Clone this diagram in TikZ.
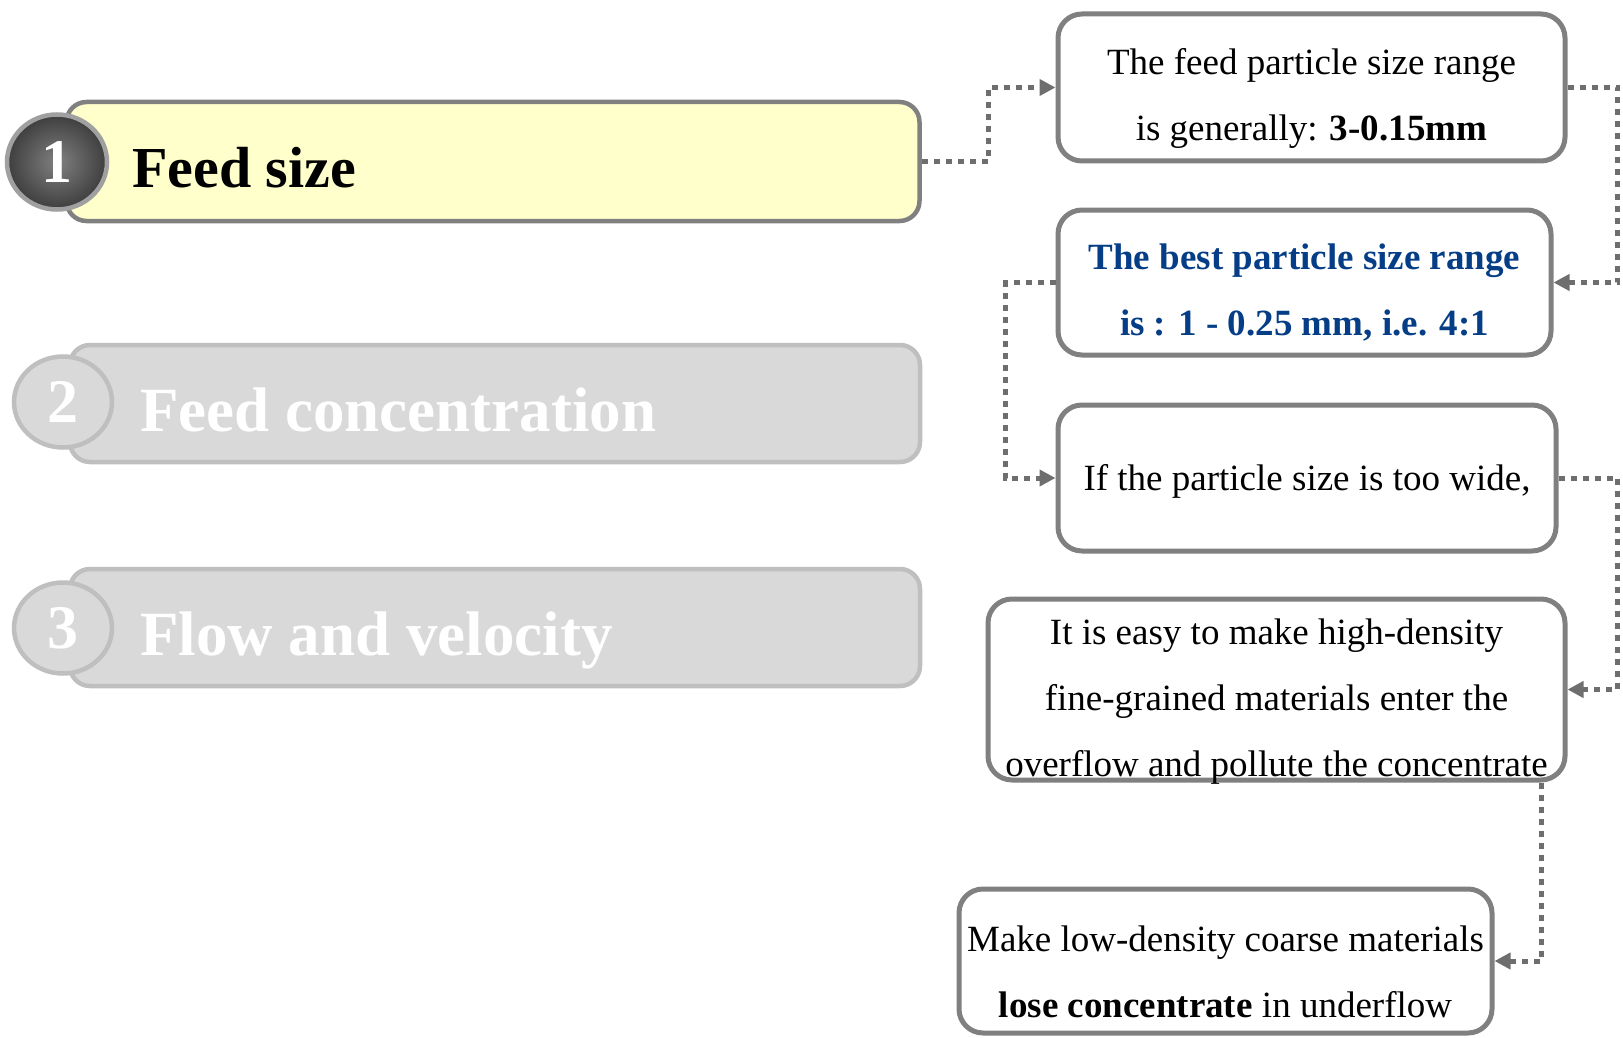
\documentclass[tikz,border=0pt]{standalone}
\usepackage{fontspec}
\setmainfont{Liberation Serif}
\usetikzlibrary{arrows.meta,shapes.geometric}
\definecolor{boxgray}{RGB}{128,128,128}
\definecolor{conngray}{RGB}{110,110,110}
\definecolor{barfill}{RGB}{255,255,204}
\definecolor{barline}{RGB}{128,128,128}
\definecolor{fadefill}{RGB}{217,217,217}
\definecolor{fadeline}{RGB}{191,191,191}
\definecolor{ballin}{RGB}{128,128,128}
\definecolor{ballout}{RGB}{62,62,62}
\definecolor{ballline}{RGB}{160,160,160}
\definecolor{bestblue}{RGB}{5,62,135}
\begin{document}
\begin{tikzpicture}[x=1pt,y=-1pt,
 infobox/.style={draw=boxgray,line width=5pt,rounded corners=24pt,fill=white,inner sep=0pt},
 infotext/.style={align=center,font=\fontsize{37}{66}\selectfont,inner sep=0pt},
 activebar/.style={draw=barline,fill=barfill,line width=4.5pt,rounded corners=20pt,inner sep=0pt},
 fadebar/.style={draw=fadeline,fill=fadefill,line width=4.5pt,rounded corners=20pt,inner sep=0pt},
 activeball/.style={ellipse,draw=ballline,line width=4.5pt,inner color=ballin,outer color=ballout,inner sep=0pt},
 fadeball/.style={ellipse,draw=fadeline,fill=fadefill,line width=4.5pt,inner sep=0pt},
 balltext/.style={text=white,font=\fontsize{62}{62}\selectfont\bfseries,inner sep=0pt},
 bartext/.style={anchor=base west,inner sep=0pt},
 conn/.style={draw=conngray,line width=5pt,dash pattern=on 6pt off 6pt,-{Triangle[length=16pt,width=16pt]}}
]
\useasboundingbox (0,0) rectangle (1623,1038);

% left bars
\node[activebar, minimum width=853pt, minimum height=119pt] (bar1) at (493,161.5) {};
\node[fadebar, minimum width=850pt, minimum height=117pt] (bar2) at (495,403.5) {};
\node[fadebar, minimum width=850pt, minimum height=117pt] (bar3) at (495,627.5) {};

\node[activeball, minimum width=100pt, minimum height=95pt] (ball1) at (57,162) {};
\node[balltext] (num1) at (ball1.center) {1};
\node[fadeball, minimum width=98pt, minimum height=91pt] (ball2) at (63,402) {};
\node[balltext] (num2) at (ball2.center) {2};
\node[fadeball, minimum width=98pt, minimum height=91pt] (ball3) at (63,628) {};
\node[balltext] (num3) at (ball3.center) {3};

\node[bartext, text=black, font=\fontsize{58}{58}\selectfont\bfseries] (lab1) at (132,187) {Feed size};
\node[bartext, text=white, font=\fontsize{63}{63}\selectfont\bfseries] (lab2) at (140,431) {Feed concentration};
\node[bartext, text=white, font=\fontsize{63}{63}\selectfont\bfseries] (lab3) at (140,655) {Flow and velocity};

% right boxes
\node[infobox, minimum width=507pt, minimum height=147pt] (boxA) at (1311.5,87.5) {};
\node[infotext] (textA) at (1311.5,98) {The feed particle size range\\is generally: \textbf{3-0.15mm}};

\node[infobox, minimum width=493pt, minimum height=145pt] (boxB) at (1304.5,282.5) {};
\node[infotext, text=bestblue, font=\fontsize{37}{66}\selectfont\bfseries] (textB) at (1304.5,293) {The best particle size range\\is : 1 - 0.25 mm, i.e. 4:1};

\node[infobox, minimum width=498pt, minimum height=146pt] (boxC) at (1307,478) {};
\node[infotext] (textC) at (1307,481) {If the particle size is too wide,};

\node[infobox, minimum width=577pt, minimum height=181pt] (boxD) at (1276.5,689.5) {};
\node[infotext] (textD) at (1276.5,702) {It is easy to make high-density\\fine-grained materials enter the\\overflow and pollute the concentrate};

\node[infobox, minimum width=533pt, minimum height=144pt] (boxE) at (1225.5,961) {};
\node[infotext] (textE) at (1225.5,972) {Make low-density coarse materials\\\textbf{lose concentrate} in underflow};

% connectors
\draw[conn] (bar1.east) -- ++(67,0) |- (boxA.west);
\draw[conn] (boxA.east) -- ++(50,0) |- (boxB.east);
\draw[conn] (boxB.west) -- ++(-50,0) |- (boxC.west);
\draw[conn] (boxC.east) -- ++(59,0) |- (boxD.east);
\coordinate (dout) at ([xshift=-26pt]boxD.south east);
\draw[conn] (dout) |- (boxE.east);
\end{tikzpicture}
\end{document}
